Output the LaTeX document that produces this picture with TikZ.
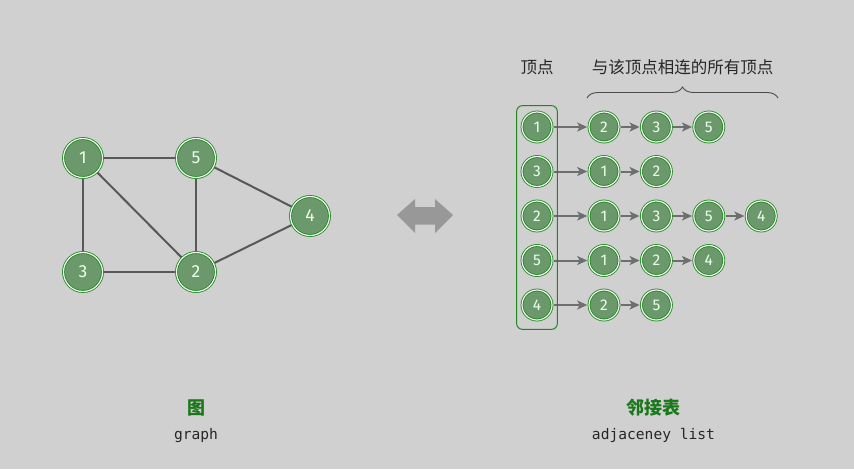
\documentclass[tikz,border=0pt]{standalone}
\usepackage{fontspec}
\setmainfont{Fira Sans}
\setmonofont{DejaVu Sans Mono}
\newfontfamily\cjk{Noto Sans CJK SC}
\usetikzlibrary{arrows.meta,decorations.pathreplacing,fit,backgrounds}

\definecolor{bggray}{RGB}{208,208,208}
\definecolor{vfill}{RGB}{108,153,108}
\definecolor{vline}{RGB}{30,135,30}
\definecolor{edgegray}{RGB}{88,88,88}
\definecolor{arrgray}{RGB}{110,110,110}
\definecolor{bigarrow}{RGB}{152,152,152}
\definecolor{labgreen}{RGB}{25,120,25}

\tikzset{
	vertex/.style={
		circle, fill=vfill, draw=vline, double=white!90!vfill,
		line width=0.8pt, double distance=1.2pt, inner sep=0pt,
		minimum size=39pt, text=white!92!green,
		font=\fontsize{17.5}{17.5}\selectfont},
	smallvertex/.style={vertex, minimum size=30pt,
		font=\fontsize{15.5}{15.5}\selectfont},
	graphedge/.style={draw=edgegray, line width=2pt},
	link/.style={draw=arrgray, line width=2pt,
		-{Stealth[length=10pt,width=9pt,inset=2.5pt]},
		shorten <=1.4pt, shorten >=1.4pt},
	headbox/.style={draw=vline, line width=1pt, rounded corners=6pt,
		inner xsep=5pt, inner ysep=7.5pt, yshift=-1.5pt},
	toplabel/.style={text=black!85, font=\cjk\fontsize{16.5}{16.5}\selectfont},
	titlelabel/.style={text=labgreen, font=\cjk\bfseries\fontsize{18}{18}\selectfont},
	sublabel/.style={text=black!85, font=\ttfamily\fontsize{14.6}{14.6}\selectfont}
}

\begin{document}
\begin{tikzpicture}[x=1pt,y=1pt,yscale=-1,xscale=1]

% the graph
\node[vertex] (g1) at (83,158) {1};
\node[vertex] (g5) at (196,158) {5};
\node[vertex] (g4) at (310,216) {4};
\node[vertex] (g3) at (83,272) {3};
\node[vertex] (g2) at (196,272) {2};
\begin{pgfonlayer}{background}
\fill[bggray] (0,0) rectangle (854,469);
\foreach \a/\b in {1/5,1/3,1/2,5/2,5/4,3/2,2/4}
	\draw[graphedge] (g\a.center) -- (g\b.center);
\end{pgfonlayer}

% the double arrow
\fill[bigarrow] (397,215) -- (415,199) -- (415,207) -- (435,207) -- (435,199)
	-- (453,215) -- (435,233) -- (435,224.5) -- (415,224.5) -- (415,233) -- cycle;

% the adjacency list
\foreach \v/\list [count=\r] in {1/{2,3,5},3/{1,2},2/{1,3,5,4},5/{1,2,4},4/{2,5}} {
	\node[smallvertex] (h\r) at (537,{127+44.5*(\r-1)}) {\v};
	\foreach \w [count=\c] in \list {
		\node[smallvertex] (n\r-\c) at ({604+52.4*(\c-1)},{127+44.5*(\r-1)}) {\w};
		\ifnum\c=1
			\draw[link] (h\r) -- (n\r-\c);
		\else
			\pgfmathtruncatemacro\pc{\c-1}
			\draw[link] (n\r-\pc) -- (n\r-\c);
		\fi
	}
}
\node[headbox, fit=(h1)(h5)] (hbox) {};

\node[toplabel] (vlab) at (537,67) {顶点};
\node[toplabel] (nlab) at (682.5,67) {与该顶点相连的所有顶点};
\coordinate (bl) at (587,98);
\coordinate (br) at (778,98);
\draw[black!70, line width=0.9pt, decorate, decoration={brace, amplitude=11pt}] (bl) -- (br);

% captions
\node[titlelabel] (gtitle) at (196,408) {图};
\node[sublabel] (gsub) at (196,436) {graph};
\node[titlelabel] (ltitle) at (653.5,408) {邻接表};
\node[sublabel] (lsub) at (653.5,435) {adjaceney list};
\end{tikzpicture}
\end{document}
